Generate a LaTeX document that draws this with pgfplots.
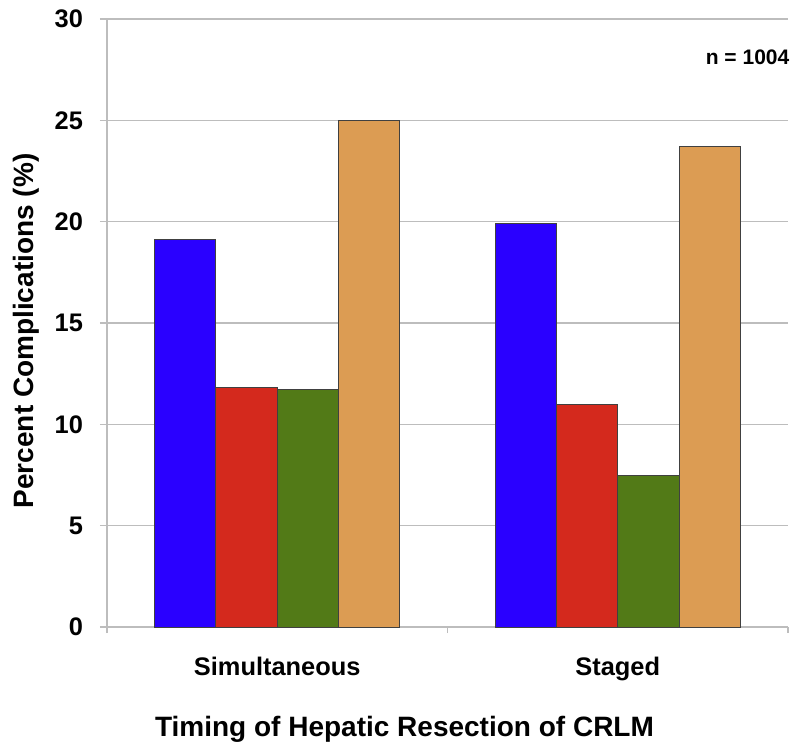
\documentclass[border=0pt]{standalone}
\usepackage{pgfplots}
\pgfplotsset{compat=1.18}
\usepackage{fontspec}
\setmainfont{Liberation Sans}
\definecolor{cblue}{HTML}{2A00FF}
\definecolor{cred}{HTML}{D4291D}
\definecolor{cgreen}{HTML}{527A17}
\definecolor{corange}{HTML}{DC9C53}
\definecolor{gridc}{HTML}{BDBDBD}
\begin{document}
\begin{tikzpicture}
\useasboundingbox (-53.5pt,-62pt) rectangle (346.5pt,313.5pt);
\begin{axis}[
  scale only axis,
  width=340.5pt, height=304pt,
  xmin=-0.5, xmax=1.5,
  ymin=0, ymax=30,
  ytick={0,5,...,30},
  xtick={0,1},
  xticklabels={Simultaneous,Staged},
  minor xtick={-0.5,0.5,1.5},
  axis x line*=bottom,
  axis y line*=left,
  axis line style={gridc, line width=0.7pt, -},
  tick align=outside,
  major tick length=3.5pt,
  minor tick length=3pt,
  major x tick style={draw=none},
  every tick/.style={gridc, line width=0.6pt},
  ymajorgrids,
  grid style={gridc, line width=0.7pt},
  /pgf/number format/assume math mode=true,
  tick label style={font=\fontsize{12.7}{14}\selectfont\bfseries, black},
  xticklabel style={yshift=-8pt},
  yticklabel style={xshift=-5pt},
  xlabel={Timing of Hepatic Resection of CRLM},
  ylabel={Percent Complications (\%)},
  label style={font=\fontsize{14}{16}\selectfont\bfseries, black},
  xlabel style={yshift=-11pt, xshift=-21.5pt},
  ylabel style={yshift=1pt, xshift=-4pt},
  ybar, bar width=0.18,
  every axis plot/.append style={draw=black!75, line width=0.5pt},
  clip=false,
]
\addplot[fill=cblue, bar shift=-0.27] coordinates {(0,19.1) (1,19.9)};
\addplot[fill=cred, bar shift=-0.09] coordinates {(0,11.8) (1,11.0)};
\addplot[fill=cgreen, bar shift=0.09] coordinates {(0,11.7) (1,7.5)};
\addplot[fill=corange, bar shift=0.27] coordinates {(0,25.0) (1,23.7)};
\node[anchor=east, font=\fontsize{10.5}{12}\selectfont\bfseries, inner sep=0pt] at (axis cs:1.505,28.1) {n = 1004};
\end{axis}
\end{tikzpicture}
\end{document}
